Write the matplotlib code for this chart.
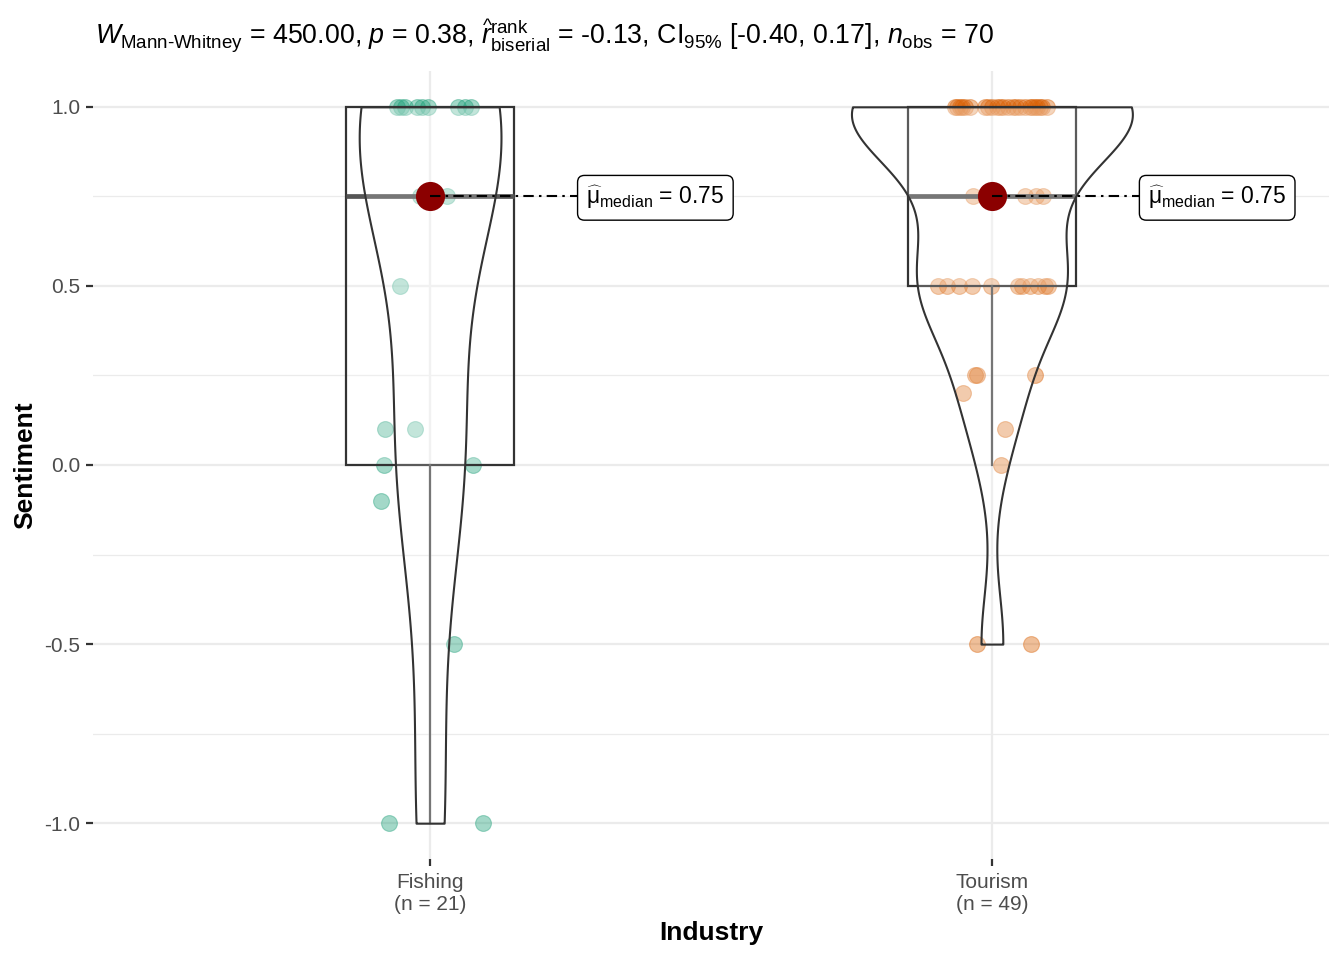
import numpy as np
import matplotlib
matplotlib.use('Agg')
import matplotlib.pyplot as plt

plt.rcParams['font.family'] = ['Liberation Sans', 'DejaVu Sans']
plt.rcParams['mathtext.fontset'] = 'custom'
plt.rcParams['mathtext.rm'] = 'Liberation Sans'
plt.rcParams['mathtext.it'] = 'Liberation Sans:italic'
plt.rcParams['mathtext.bf'] = 'Liberation Sans:bold'

# ---------------- data ----------------
groups = ['Fishing', 'Tourism']
group_n = [21, 49]
colors = ['#1B9E77', '#D95F02']

fishing_values = [1.0, 1.0, 1.0, 1.0, 1.0, 1.0, 1.0, 1.0, 1.0,
                  0.75, 0.75, 0.75,
                  0.5, 0.1, 0.1, 0.0, 0.0, -0.1, -0.5, -1.0, -1.0]
fishing_jitter = [-0.059, -0.052, -0.044, -0.023, -0.014, -0.004, 0.050, 0.062, 0.073,
                  0.0, -0.018, 0.030,
                  -0.053, -0.080, -0.027, -0.082, 0.077, -0.087, 0.043, -0.073, 0.094]

tourism_values = [1.0, 1.0, 1.0, 1.0, 1.0, 1.0, 1.0, 1.0, 1.0, 1.0, 1.0, 1.0,
                  1.0, 1.0, 1.0, 1.0, 1.0, 1.0, 1.0, 1.0, 1.0, 1.0, 1.0, 1.0,
                  0.75, 0.75, 0.75, 0.75, 0.75, 0.75,
                  0.5, 0.5, 0.5, 0.5, 0.5, 0.5, 0.5, 0.5, 0.5, 0.5, 0.5,
                  0.25, 0.25, 0.25, 0.2, 0.1, 0.0, -0.5, -0.5]
tourism_jitter = [-0.066, -0.062, -0.057, -0.053, -0.048, -0.039, -0.012, -0.007,
                  0.0, 0.009, 0.014, 0.020, 0.028, 0.037, 0.043, 0.050,
                  0.059, 0.068, 0.071, 0.077, 0.080, 0.085, 0.089, 0.098,
                  -0.034, -0.012, 0.011, 0.059, 0.078, 0.091,
                  -0.096, -0.080, -0.059, -0.036, -0.002, 0.046, 0.053, 0.068,
                  0.082, 0.094, 0.100,
                  -0.030, -0.027, 0.077, -0.052, 0.023, 0.016, -0.027, 0.069]

values = [np.array(fishing_values), np.array(tourism_values)]
jitters = [np.array(fishing_jitter), np.array(tourism_jitter)]

HY = '\u2010'
title = (r'$W_{\mathrm{Mann' + HY + r'Whitney}}$ = 450.00, $p$ = 0.38, '
         r'$\widehat{r}_{\mathrm{biserial}}^{\mathrm{rank}}$ = -0.13, '
         r'$\mathrm{CI}_{95\%}$ [-0.40, 0.17], $n_{\mathrm{obs}}$ = 70')

# ---------------- helpers ----------------
def nrd0(x):
    n = len(x)
    sd = np.std(x, ddof=1)
    q75, q25 = np.percentile(x, [75, 25])
    lo = min(sd, (q75 - q25) / 1.34)
    if lo == 0:
        lo = sd
    return 0.9 * lo * n ** -0.2

def kde(x, grid, bw):
    z = (grid[:, None] - x[None, :]) / bw
    return np.exp(-0.5 * z ** 2).sum(1) / (len(x) * bw * np.sqrt(2 * np.pi))

# ---------------- figure ----------------
fig = plt.figure(figsize=(13.44, 9.6), dpi=100)
ax = fig.add_axes([93 / 1344, 1 - 859 / 960, (1329 - 93) / 1344, (859 - 71) / 960])

positions = [1, 2]

# points (under box & violin)
for pos, v, j, c in zip(positions, values, jitters, colors):
    ax.scatter(pos + j, v, s=130, color=c, alpha=0.4, edgecolors=c, linewidths=0.8, zorder=2)

# boxplots
ax.boxplot(values, positions=positions, widths=0.3, whis=1.5, showfliers=False,
           showcaps=False, patch_artist=True, manage_ticks=False,
           boxprops=dict(facecolor=(1, 1, 1, 0.2), edgecolor='#333333', linewidth=1.6),
           medianprops=dict(color='#555555', linewidth=3.4),
           whiskerprops=dict(color='#555555', linewidth=1.6), zorder=3)

# violins (area-scaled, trimmed)
grids, dens = [], []
for v in values:
    g = np.linspace(v.min(), v.max(), 512)
    d = kde(v, g, nrd0(v))
    grids.append(g)
    dens.append(d)
dmax = max(d.max() for d in dens)
for pos, g, d in zip(positions, grids, dens):
    hw = 0.25 * d / dmax
    ax.fill_betweenx(g, pos - hw, pos + hw, facecolor=(1, 1, 1, 0.2),
                     edgecolor='#333333', linewidth=1.5, zorder=4)

# median points + labels
for pos, v in zip(positions, values):
    med = np.median(v)
    ax.scatter([pos], [med], s=440, color='#8B0000', zorder=6, linewidths=0)
    lx = pos + 0.266
    ax.plot([pos, lx], [med, med], linestyle=(0, (5, 2.5, 1.2, 2.5)), color='black',
            linewidth=1.5, zorder=7)
    ax.text(lx + 0.012, med - 0.004, r'$\widehat{\mathrm{\mu}}_{\mathrm{median}}$ = %.2f' % med,
            ha='left', va='center', fontsize=16.5, zorder=8,
            bbox=dict(boxstyle='round,pad=0.38,rounding_size=0.3', fc='white',
                      ec='black', lw=1.0))

# axes styling
ax.set_xlim(0.4, 2.6)
ax.set_ylim(-1.1, 1.1)
ax.set_xticks(positions)
ax.set_xticklabels(['%s\n(n = %d)' % (g, n) for g, n in zip(groups, group_n)],
                   linespacing=1.2)
ax.set_yticks([-1.0, -0.5, 0.0, 0.5, 1.0])
ax.set_yticklabels(['-1.0', '-0.5', '0.0', '0.5', '1.0'])
ax.set_yticks([-0.75, -0.25, 0.25, 0.75], minor=True)
ax.tick_params(axis='both', which='major', labelsize=15, labelcolor='#4D4D4D',
               color='#333333', length=5, width=1.6, pad=4)
ax.tick_params(axis='x', which='major', pad=5)
ax.tick_params(axis='y', which='minor', length=0)
ax.grid(which='major', color='#EBEBEB', linewidth=1.6)
ax.grid(which='minor', axis='y', color='#EBEBEB', linewidth=0.9)
ax.set_axisbelow(True)
for s in ax.spines.values():
    s.set_visible(False)

fig.text(95 / 1344, 1 - 36 / 960, title, ha='left', va='center', fontsize=19.3)
fig.text(25 / 1344, 1 - 465 / 960, 'Sentiment', rotation=90, ha='center', va='center',
         fontsize=19, fontweight='bold')
fig.text(711 / 1344, 1 - 933 / 960, 'Industry', ha='center', va='center',
         fontsize=19, fontweight='bold')

fig.savefig('out.png', dpi=100, facecolor='white')
